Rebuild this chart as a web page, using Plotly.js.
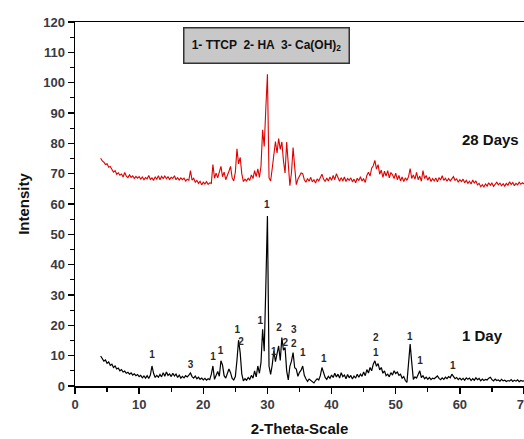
<!DOCTYPE html>
<html>
<head>
<meta charset="utf-8">
<script src="https://cdn.plot.ly/plotly-3.0.1.min.js"></script>
<style>
html,body{margin:0;padding:0;background:#fff;}
#chart{width:524px;height:439px;}
</style>
</head>
<body>
<div id="chart"></div>
<script>
// 2-theta scan grid (degrees)
var thetaStart = 4.0;
var thetaStep = 0.25;

// 1 Day intensities (4.00 .. 70.00, step 0.25)
var day1 = [
 9.9, 9.0, 8.2, 8.6, 7.5, 7.9, 6.8, 7.2,
 6.1, 6.6, 5.6, 5.9, 5.0, 5.4, 4.6, 4.9,
 4.2, 4.5, 3.9, 4.3, 3.6, 4.0, 3.4, 3.8,
 3.1, 3.5, 2.7, 3.3, 2.6, 3.4, 2.5, 3.6,
 6.6, 4.2, 2.8, 3.5, 2.9, 3.8, 3.0, 4.4,
 3.2, 4.6, 3.5, 4.0, 3.1, 4.2, 3.3, 3.9,
 2.8, 3.6, 2.6, 3.2, 2.7, 3.4, 3.0, 3.6,
 4.3, 3.1, 2.6, 3.3, 2.4, 2.9, 2.2, 2.6,
 2.0, 2.5, 1.9, 2.4, 2.1, 3.8, 6.6, 2.2,
 3.5, 4.8, 3.2, 8.3, 6.9, 3.4, 2.6, 3.9,
 5.6, 4.4, 2.5, 2.0, 3.1, 8.5, 15.1, 11.0,
 4.0, 1.7, 2.4, 1.9, 2.8, 2.2, 3.5, 2.6,
 5.0, 3.0, 6.6, 4.2, 7.8, 18.7, 11.5, 33.0,
 56.0, 6.5, 3.8, 7.0, 11.6, 8.0, 10.2, 13.2,
 8.4, 16.0, 11.8, 12.7, 5.0, 2.0, 6.5, 8.2,
 11.0, 6.0, 5.6, 3.2, 4.5, 5.2, 6.6, 3.5,
 2.4, 1.5, 2.3, 1.8, 1.2, 1.0, 1.8, 2.4,
 2.0, 3.4, 6.1, 4.5, 2.8, 2.2, 3.2, 2.5,
 3.6, 2.8, 4.2, 3.0, 3.9, 2.6, 4.4, 3.1,
 3.6, 2.4, 3.8, 2.7, 3.5, 2.3, 3.3, 2.6,
 3.9, 2.9, 3.9, 3.2, 4.6, 3.4, 5.4, 4.3,
 6.1, 5.0, 7.2, 8.3, 6.5, 7.4, 5.3, 6.1,
 4.2, 5.0, 3.4, 3.9, 3.0, 4.4, 3.6, 5.0,
 4.1, 4.6, 3.5, 3.9, 2.6, 3.1, 1.8, 1.2,
 7.0, 13.8, 7.7, 2.2, 3.0, 2.6, 3.8, 5.0,
 2.8, 3.4, 2.4, 2.9, 2.2, 2.8, 2.1, 2.6,
 2.4, 3.0, 3.3, 2.5, 2.1, 2.7, 2.2, 2.9,
 2.4, 3.1, 2.7, 3.9, 3.2, 2.4, 2.8, 2.1,
 2.6, 2.0, 2.5, 1.9, 2.7, 2.2, 2.6, 1.8,
 2.4, 1.9, 2.7, 2.1, 2.5, 1.7, 2.3, 1.8,
 2.2, 2.0, 2.6, 2.9, 2.1, 1.7, 2.3, 1.8,
 2.0, 1.6, 2.2, 1.7, 1.9, 1.5, 1.8, 1.6,
 2.1, 1.5, 1.9, 1.6, 2.0, 1.4, 1.8, 1.6,
 1.7
];

// 28 Days intensities (4.00 .. 70.00, step 0.25)
var day28 = [
 75.1, 74.2, 73.8, 73.0, 73.3, 72.1, 72.4, 71.3,
 70.5, 71.0, 69.8, 70.3, 69.5, 69.9, 68.9, 70.4,
 69.2, 68.7, 69.6, 68.8, 69.3, 68.4, 69.1, 68.5,
 69.0, 68.2, 68.9, 68.0, 68.7, 68.3, 69.4, 68.1,
 68.6, 67.8, 68.9, 68.2, 69.3, 68.0, 69.1, 68.4,
 69.2, 68.3, 69.0, 68.1, 68.8, 68.4, 69.3, 68.0,
 68.7, 67.9, 68.6, 68.0, 68.5, 67.6, 68.2, 67.8,
 71.0, 67.9, 68.5, 67.2, 67.8, 66.8, 67.5, 66.3,
 67.2, 66.6, 67.4, 66.5, 67.0, 66.8, 73.0, 68.5,
 70.2, 68.6, 71.0, 72.4, 69.0, 70.5, 68.0, 69.2,
 70.8, 72.4, 68.6, 67.6, 70.5, 78.2, 73.2, 75.4,
 70.0, 67.4, 68.2, 67.6, 68.5, 67.8, 69.6, 68.4,
 71.0, 69.0, 71.6, 68.8, 72.5, 84.5, 79.0, 91.6,
 102.8, 68.6, 67.6, 71.8, 76.2, 80.6, 76.8, 81.6,
 78.0, 80.5, 74.2, 70.2, 80.4, 73.0, 66.0, 70.4,
 78.6, 72.2, 66.4, 68.2, 69.0, 70.2, 70.0, 68.0,
 67.2, 68.4, 67.5, 68.8, 67.3, 68.0, 66.9, 68.3,
 67.6, 69.0, 69.8, 68.2, 67.4, 68.6, 67.6, 68.9,
 67.8, 69.4, 68.0, 70.0, 68.5, 67.5, 68.7, 67.6,
 68.9, 67.4, 68.4, 67.8, 68.6, 67.3, 68.2, 67.0,
 68.5, 67.7, 69.0, 67.6, 68.3, 67.1, 69.4, 70.5,
 69.2, 71.8, 72.6, 74.4, 71.5, 73.0, 69.8, 71.2,
 68.8, 70.8, 69.2, 71.0, 68.6, 70.4, 69.6, 68.4,
 70.2, 68.0, 69.4, 67.6, 68.9, 67.4, 68.6, 67.8,
 69.0, 71.7, 68.4, 69.6, 68.2, 70.4, 68.0, 69.2,
 67.5, 71.0, 68.4, 69.4, 67.8, 68.9, 67.4, 68.4,
 67.6, 68.6, 67.3, 68.7, 67.9, 69.3, 67.8, 68.5,
 67.5, 68.4, 67.6, 68.2, 69.0, 67.8, 68.3, 67.2,
 68.0, 67.4, 68.2, 67.0, 67.8, 66.8, 67.5, 66.6,
 67.9, 66.9, 67.6, 66.3, 66.8, 65.7, 66.4, 65.6,
 66.6, 65.9, 67.0, 66.2, 66.9, 65.8, 66.5, 67.2,
 66.3, 66.9, 66.0, 66.7, 65.9, 66.8, 66.2, 67.3,
 66.4, 67.1, 66.0, 66.8, 66.3, 67.2, 66.5, 67.0,
 66.6
];

// Peak labels (1 Day pattern)
var peakX    = [12.0, 18.0, 21.5, 22.7, 25.3, 25.9, 28.9, 29.9, 31.0, 31.8, 32.8, 34.1, 34.1, 35.5, 38.8, 46.9, 46.9, 52.2, 53.8, 58.9];
var peakY    = [10.2, 6.6, 9.4, 11.3, 18.3, 14.4, 21.3, 59.5, 11.2, 18.8, 13.9, 18.4, 13.6, 10.6, 8.7, 15.8, 10.8, 16.0, 8.0, 6.4];
var peakText = ['1','3','1','1','1','2','1','1','1','2','2','3','2','1','1','2','1','1','1','1'];

var theta = day1.map(function(_, i){ return +(thetaStart + i*thetaStep).toFixed(2); });

var traces = [
  {x: theta, y: day28, mode: 'lines', line: {color: '#e00000', width: 1.1}, name: '28 Days', hoverinfo: 'skip'},
  {x: theta, y: day1, mode: 'lines', line: {color: '#000000', width: 1.2}, name: '1 Day', hoverinfo: 'skip'},
  {x: peakX, y: peakY, mode: 'text', text: peakText, textposition: 'middle center',
   textfont: {family: 'Liberation Sans, Arial, sans-serif', size: 10, color: '#2a2a2a', weight: 'bold'}, hoverinfo: 'skip'}
];

var tickFont = {family: 'Liberation Sans, Arial, sans-serif', size: 13, color: '#3a3a44', weight: 'bold'};

var layout = {
  width: 524, height: 439,
  margin: {l: 75, r: 0, t: 22, b: 53, pad: 0},
  paper_bgcolor: '#ffffff', plot_bgcolor: '#ffffff',
  showlegend: false,
  xaxis: {
    range: [0, 70], dtick: 10, tick0: 0,
    showgrid: false, zeroline: false,
    showline: true, linecolor: '#000', linewidth: 1.5, mirror: true,
    ticks: 'outside', ticklen: 6, tickwidth: 1.5, tickcolor: '#000',
    ticklabeloverflow: 'allow',
    minor: {dtick: 5, ticks: 'outside', ticklen: 4, tickwidth: 1.2, tickcolor: '#000', showgrid: false},
    tickfont: tickFont,
    title: {text: '2-Theta-Scale', font: {family: 'Liberation Sans, Arial, sans-serif', size: 15, color: '#111', weight: 'bold'}, standoff: 12}
  },
  yaxis: {
    range: [0, 120], dtick: 10, tick0: 0,
    showgrid: false, zeroline: false,
    showline: true, linecolor: '#000', linewidth: 1.5, mirror: true,
    ticks: 'outside', ticklen: 6, tickwidth: 1.5, tickcolor: '#000',
    minor: {dtick: 5, ticks: 'outside', ticklen: 4, tickwidth: 1.2, tickcolor: '#000', showgrid: false},
    tickfont: tickFont,
    title: {text: 'Intensity', font: {family: 'Liberation Sans, Arial, sans-serif', size: 15, color: '#111', weight: 'bold'}, standoff: 10}
  },
  annotations: [
    {xref: 'x', yref: 'y', x: 29.9, y: 112.2, showarrow: false,
     text: '1- TTCP  2- HA  3- Ca(OH)<sub>2</sub>',
     font: {family: 'Liberation Sans, Arial, sans-serif', size: 12, color: '#111', weight: 'bold'},
     bgcolor: '#c8c8c8', bordercolor: '#333', borderwidth: 1.5, borderpad: 2,
     width: 160, height: 30, align: 'center', valign: 'middle'},
    {xref: 'x', yref: 'y', x: 64.8, y: 81.3, showarrow: false, text: '28 Days',
     font: {family: 'Liberation Sans, Arial, sans-serif', size: 15, color: '#111', weight: 'bold'}},
    {xref: 'x', yref: 'y', x: 63.5, y: 16.7, showarrow: false, text: '1 Day',
     font: {family: 'Liberation Sans, Arial, sans-serif', size: 15, color: '#111', weight: 'bold'}}
  ]
};

Plotly.newPlot('chart', traces, layout, {staticPlot: true, displayModeBar: false});
</script>
</body>
</html>
